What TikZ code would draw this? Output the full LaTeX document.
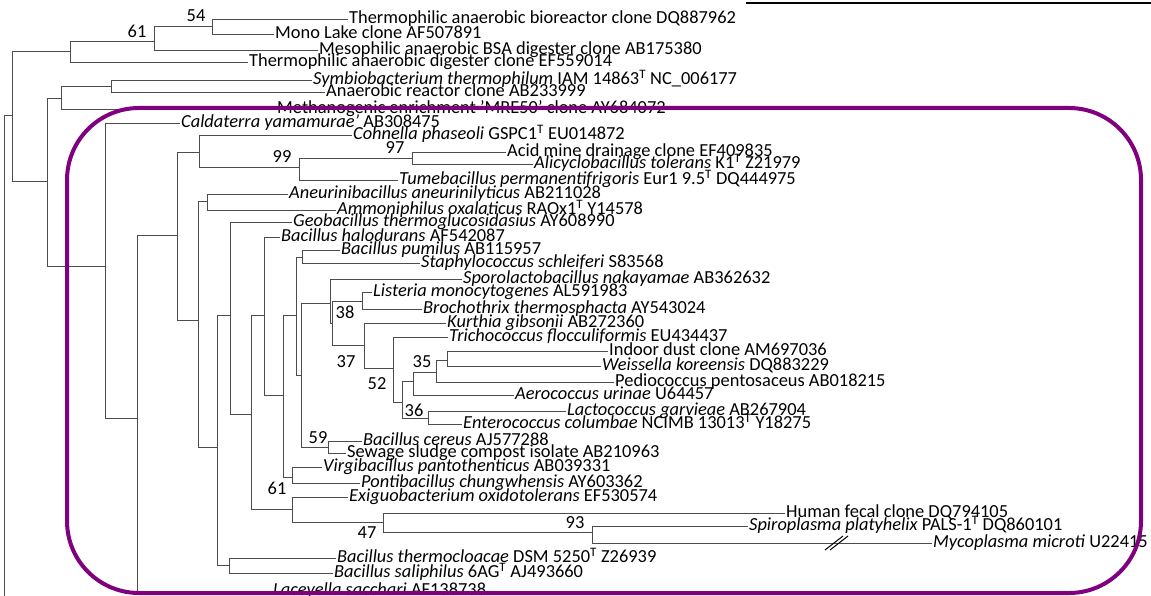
\documentclass[tikz,border=0pt]{standalone}
\usepackage{fontspec}
\setmainfont{Carlito}
\definecolor{cladepurple}{HTML}{800080}

\begin{document}
\begin{tikzpicture}[x=1pt,y=-1pt,
  leaf/.style={anchor=west,inner sep=0pt,inner xsep=1pt,text height=12pt,text depth=3pt,font=\fontsize{18.4}{20}\selectfont},
  bs/.style={inner sep=0pt,font=\fontsize{18.4}{20}\selectfont},
  br/.style={draw=black!70,line width=0.7pt}]
\useasboundingbox (0,0) rectangle (1151,596);
\node[leaf] (TAB) at (348,19) {Thermophilic anaerobic bioreactor clone DQ887962};
\node[leaf] (Mono) at (274,34) {Mono Lake clone AF507891};
\node[leaf] (Meso) at (318,50) {Mesophilic anaerobic BSA digester clone AB175380};
\node[leaf] (TAD) at (248,62) {Thermophilic anaerobic digester clone EF559014};
\node[leaf] (Symb) at (312,80) {\textit{Symbiobacterium thermophilum} IAM 14863\textsuperscript{T} NC\_006177};
\node[leaf] (AnR) at (325,92) {Anaerobic reactor clone AB233999};
\node[leaf] (Meth) at (276,109) {Methanogenic enrichment 'MRE50' clone AY684072};
\node[leaf] (Cald) at (180,123) {\textit{Caldaterra yamamurae'} AB308475};
\node[leaf] (Cohn) at (352,135) {\textit{Cohnella phaseoli} GSPC1\textsuperscript{T} EU014872};
\node[leaf] (AMD) at (506,152) {Acid mine drainage clone EF409835};
\node[leaf] (Alic) at (533,164) {\textit{Alicyclobacillus tolerans} K1\textsuperscript{T} Z21979};
\node[leaf] (Tume) at (398,180) {\textit{Tumebacillus permanentifrigoris} Eur1 9.5\textsuperscript{T} DQ444975};
\node[leaf] (Aneu) at (288,194) {\textit{Aneurinibacillus aneurinilyticus} AB211028};
\node[leaf] (Ammo) at (336,210) {\textit{Ammoniphilus oxalaticus} RAOx1\textsuperscript{T} Y14578};
\node[leaf] (Geob) at (292,222) {\textit{Geobacillus thermoglucosidasius} AY608990};
\node[leaf] (Bhal) at (280,237) {\textit{Bacillus halodurans} AF542087};
\node[leaf] (Bpum) at (340,250) {\textit{Bacillus pumilus} AB115957};
\node[leaf] (Stap) at (420,263) {\textit{Staphylococcus schleiferi} S83568};
\node[leaf] (Spor) at (462,279) {\textit{Sporolactobacillus nakayamae} AB362632};
\node[leaf] (List) at (372,292) {\textit{Listeria monocytogenes} AL591983};
\node[leaf] (Broc) at (422,309) {\textit{Brochothrix thermosphacta} AY543024};
\node[leaf] (Kurt) at (446,323) {\textit{Kurthia gibsonii} AB272360};
\node[leaf] (Tric) at (448,337) {\textit{Trichococcus flocculiformis} EU434437};
\node[leaf] (Dust) at (608,351) {Indoor dust clone AM697036};
\node[leaf] (Weis) at (601,366) {\textit{Weissella koreensis} DQ883229};
\node[leaf] (Pedi) at (614,382) {Pediococcus pentosaceus AB018215};
\node[leaf] (Aero) at (514,395) {\textit{Aerococcus urinae} U64457};
\node[leaf] (Lact) at (566,411) {\textit{Lactococcus garvieae} AB267904};
\node[leaf] (Ente) at (462,424) {\textit{Enterococcus columbae} NCIMB 13013\textsuperscript{T} Y18275};
\node[leaf] (Bcer) at (362,441) {\textit{Bacillus cereus} AJ577288};
\node[leaf] (Sewa) at (346,453) {Sewage sludge compost isolate AB210963};
\node[leaf] (Virg) at (322,467) {\textit{Virgibacillus pantothenticus} AB039331};
\node[leaf] (Pont) at (360,483) {\textit{Pontibacillus chungwhensis} AY603362};
\node[leaf] (Exig) at (348,497) {\textit{Exiguobacterium oxidotolerans} EF530574};
\node[leaf] (Fecal) at (785,513) {Human fecal clone DQ794105};
\node[leaf] (Spir) at (748,526) {\textit{Spiroplasma platyhelix} PALS-1\textsuperscript{T} DQ860101};
\node[leaf] (Myco) at (932,543) {\textit{Mycoplasma microti} U22415};
\node[leaf] (Bthe) at (336,558) {\textit{Bacillus thermocloacae} DSM 5250\textsuperscript{T} Z26939};
\node[leaf] (Bsal) at (333,573) {\textit{Bacillus saliphilus} 6AG\textsuperscript{T} AJ493660};
\node[leaf] (Lace) at (272,591) {\textit{Laceyella sacchari} AF138738};
\coordinate (root) at (4,596);
\coordinate (n12) at (12,115);
\coordinate (n70) at (70,51);
\coordinate (n154) at (154,41);
\coordinate (n212) at (212,26);
\coordinate (n47) at (47,181);
\coordinate (n61) at (61,98);
\coordinate (n111) at (111,86);
\coordinate (n105) at (105,266);
\coordinate (n137) at (137,418);
\coordinate (n177) at (177,235);
\coordinate (n199) at (199,152);
\coordinate (n299) at (299,167);
\coordinate (n412) at (412,158);
\coordinate (n198) at (198,320);
\coordinate (n207) at (207,201);
\coordinate (n217) at (217,447);
\coordinate (n229) at (229,565);
\coordinate (n230) at (230,315);
\coordinate (n251) at (251,414);
\coordinate (n264) at (264,315);
\coordinate (n283) at (283,395);
\coordinate (n292v) at (292,477);
\coordinate (n296) at (296,315);
\coordinate (n302) at (302,257);
\coordinate (n301) at (301,375);
\coordinate (n328) at (328,447);
\coordinate (n330) at (330,303);
\coordinate (n332) at (332,323);
\coordinate (n362) at (362,301);
\coordinate (n364) at (364,345);
\coordinate (n393) at (393,368);
\coordinate (n402) at (402,402);
\coordinate (n413) at (413,381);
\coordinate (n436) at (436,372);
\coordinate (n447) at (447,360);
\coordinate (n428) at (428,418);
\coordinate (n292e) at (292,509);
\coordinate (n383) at (383,522);
\coordinate (n592) at (592,532);
\foreach \p/\c in {root/n12,n12/n70,n12/n47,n70/n154,n70/TAD,n154/n212,n154/Meso,n212/TAB,n212/Mono,
  n47/n61,n47/n105,n61/n111,n61/Meth,n111/Symb,n111/AnR,n105/Cald,n105/n137,n137/n177,n137/Lace,
  n177/n199,n177/n198,n199/Cohn,n199/n299,n299/n412,n299/Tume,n412/AMD,n412/Alic,
  n198/n207,n198/n217,n207/Aneu,n207/Ammo,n217/n230,n217/n229,n229/Bthe,n229/Bsal,
  n230/Geob,n230/n251,n251/n264,n251/n292e,n264/Bhal,n264/n283,n283/n296,n283/n292v,
  n292v/Virg,n292v/Pont,n296/n302,n296/n301,n302/Bpum,n302/Stap,n301/n330,n301/n328,
  n328/Bcer,n328/Sewa,n330/Spor,n330/n332,n332/n362,n332/n364,n362/List,n362/Broc,
  n364/Kurt,n364/n393,n393/Tric,n393/n402,n402/n413,n402/n428,n413/n436,n413/Aero,
  n436/n447,n436/Pedi,n447/Dust,n447/Weis,n428/Lact,n428/Ente,
  n292e/Exig,n292e/n383,n383/Fecal,n383/n592,n592/Spir,n592/Myco}
  \draw[br] (\p) |- (\c);
\node[bs] (b54) at (196,16) {54};
\node[bs] (b61t) at (137,31) {61};
\node[bs] (b99) at (282,157) {99};
\node[bs] (b97) at (395,148) {97};
\node[bs] (b38) at (345,312) {38};
\node[bs] (b37) at (346,362) {37};
\node[bs] (b52) at (377,384) {52};
\node[bs] (b35) at (422,362) {35};
\node[bs] (b36) at (414,410) {36};
\node[bs] (b59) at (318,438) {59};
\node[bs] (b61b) at (277,488) {61};
\node[bs] (b47) at (367,533) {47};
\node[bs] (b93) at (575,523) {93};
\draw[line width=1pt] (825,550) -- (843,536) (830,550) -- (848,536);
\draw[line width=2.5pt] (746,3) -- (1151,3);
\draw[cladepurple,line width=4pt,rounded corners=72pt] (67,108) rectangle (1141,593);
\end{tikzpicture}
\end{document}
